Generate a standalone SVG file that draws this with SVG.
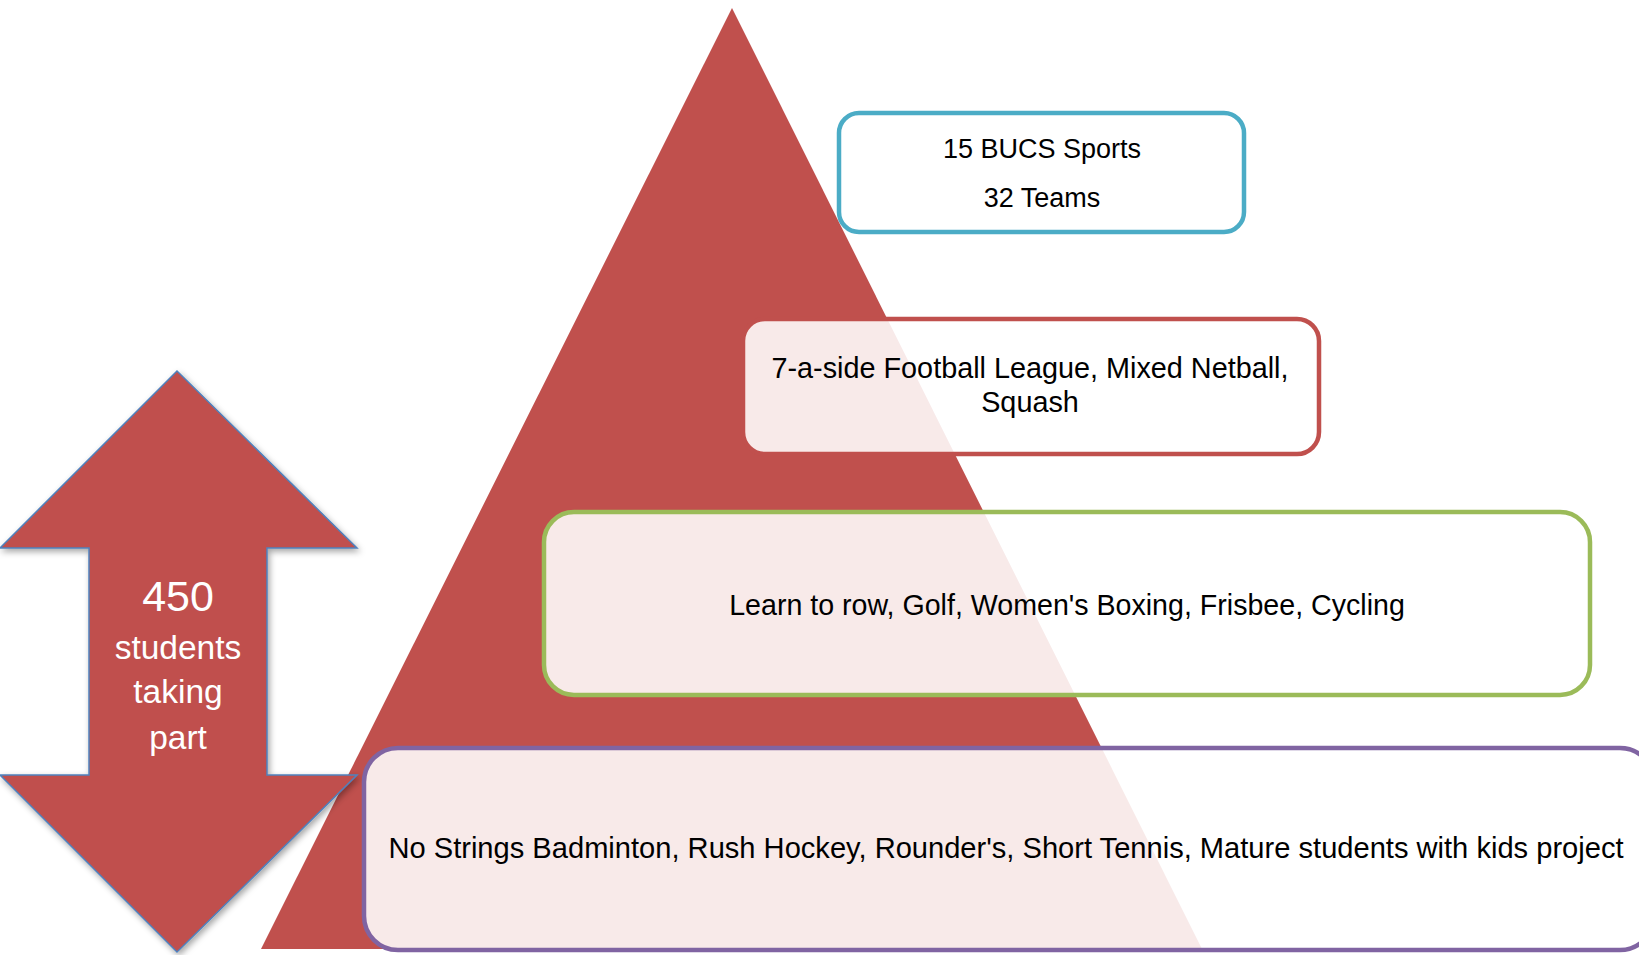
<svg xmlns="http://www.w3.org/2000/svg" width="1639" height="955" viewBox="0 0 1639 955">
<defs>
<style>
.lbl{font-family:"Liberation Sans",Arial,sans-serif;fill:#000;text-anchor:middle}
.box{fill:#fff;fill-opacity:0.88;stroke-width:4.5}
.wt{font-family:"Liberation Sans",Arial,sans-serif;fill:#fff;text-anchor:middle}
</style>
<filter id="sh" x="-10%" y="-10%" width="130%" height="130%">
<feDropShadow dx="2" dy="3" stdDeviation="3" flood-color="#000" flood-opacity="0.35"/>
</filter>
</defs>
<rect width="1639" height="955" fill="#fff"/>
<g id="pyramid">
<polygon points="732,8 1202,949 261,949" fill="#C0504D"/>
</g>
<g id="arrow">
<polygon points="177,371 357,548 267,548 267,775 357,775 177,952 0,775 89,775 89,548 0,548" fill="#C0504D" stroke="#4F81BD" stroke-width="1.5" filter="url(#sh)"/>
<text class="wt" x="178" y="611" font-size="43">450</text>
<text class="wt" x="178" y="659" font-size="33.5">students</text>
<text class="wt" x="178" y="703" font-size="33.5">taking</text>
<text class="wt" x="178" y="749" font-size="33.5">part</text>
</g>
<g id="bucs">
<rect class="box" x="839" y="113" width="405" height="119" rx="20" style="fill-opacity:1" stroke="#4BACC6"/>
<text class="lbl" x="1042" y="158" font-size="27">15 BUCS Sports</text>
<text class="lbl" x="1042" y="207" font-size="27">32 Teams</text>
</g>
<g id="leagues">
<rect class="box" x="743" y="319" width="576" height="135" rx="22" stroke="#C0504D"/>
<text class="lbl" x="1030" y="378" font-size="28.8">7-a-side Football League, Mixed Netball,</text>
<text class="lbl" x="1030" y="412" font-size="28.8">Squash</text>
</g>
<g id="taster">
<rect class="box" x="544" y="512" width="1046" height="183" rx="30" stroke="#9BBB59"/>
<text class="lbl" x="1067" y="615" font-size="28.6">Learn to row, Golf, Women's Boxing, Frisbee, Cycling</text>
</g>
<g id="community">
<rect class="box" x="364" y="748" width="1290" height="202" rx="34" stroke="#8064A2"/>
<text class="lbl" x="1006" y="858" font-size="29.1">No Strings Badminton, Rush Hockey, Rounder's, Short Tennis, Mature students with kids project</text>
</g>
<g id="connectors"></g>
</svg>
